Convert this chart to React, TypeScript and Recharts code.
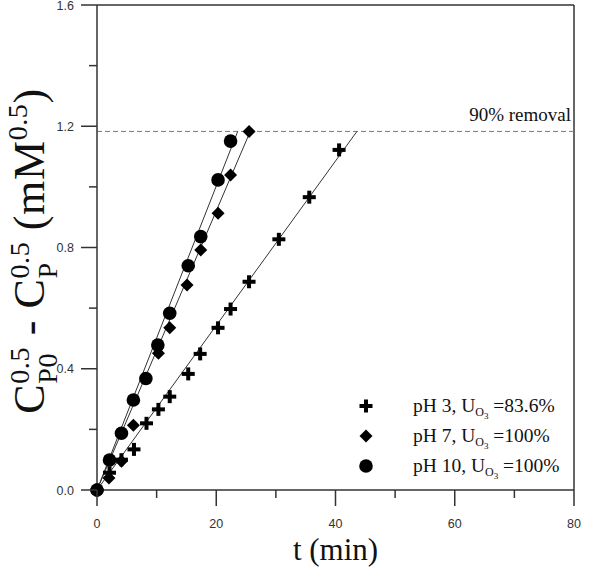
import React from "react";
import { ComposedChart, XAxis, YAxis, Scatter, ReferenceLine, Label, Legend } from "recharts";

// Measured points, pH 3 (crosses)
const timePH3 = [0, 2.1, 4.1, 6.2, 8.3, 10.3, 12.2, 15.3, 17.3, 20.3, 22.4, 25.5, 30.5, 35.6, 40.6];
const valuePH3 = [0, 0.057, 0.1, 0.134, 0.22, 0.266, 0.308, 0.383, 0.449, 0.535, 0.597, 0.687, 0.827, 0.966, 1.122];
// pH 7 (diamonds)
const timePH7 = [0, 2.0, 4.1, 6.1, 10.3, 12.2, 15.1, 17.4, 20.3, 22.4, 25.5];
const valuePH7 = [0, 0.04, 0.095, 0.214, 0.451, 0.535, 0.676, 0.792, 0.913, 1.039, 1.183];
// pH 10 (circles)
const timePH10 = [0, 2.1, 4.1, 6.1, 8.2, 10.2, 12.2, 15.3, 17.4, 20.3, 22.4];
const valuePH10 = [0, 0.099, 0.187, 0.297, 0.368, 0.478, 0.583, 0.74, 0.836, 1.023, 1.151];

// linear fits run from the origin up to the 90 % removal level
const REMOVAL_90 = 1.183;
const fitStart = [0, 0];
const fitEndPH3 = [43.6, REMOVAL_90];
const fitEndPH7 = [25.7, REMOVAL_90];
const fitEndPH10 = [23.6, REMOVAL_90];

const xTicks = [0, 10, 20, 30, 40, 50, 60, 70, 80];
const xLabelled = [0, 20, 40, 60, 80];
const yTicks = [0, 0.2, 0.4, 0.6, 0.8, 1.0, 1.2, 1.4, 1.6];
const yLabelled = [0, 0.4, 0.8, 1.2, 1.6];

const legendRows = [
  { key: "ph3", pre: "pH 3, U", post: " =83.6%" },
  { key: "ph7", pre: "pH 7, U", post: " =100%" },
  { key: "ph10", pre: "pH 10, U", post: " =100%" },
];

const toPoints = (ts: number[], ys: number[]) => ts.map((t, i) => ({ t, y: ys[i] }));
const toFit = (a: number[], b: number[]) => [
  { t: a[0], y: a[1] },
  { t: b[0], y: b[1] },
];

const ph3 = toPoints(timePH3, valuePH3);
const ph7 = toPoints(timePH7, valuePH7);
const ph10 = toPoints(timePH10, valuePH10);

const AXIS = "#333";
const SERIF = "'Liberation Serif', 'Times New Roman', serif";
const SANS = "'Liberation Sans', Arial, sans-serif";

const Cross = ({ cx, cy }: any) => (
  <g fill="#000">
    <rect x={cx - 6.5} y={cy - 2} width={13} height={4} />
    <rect x={cx - 2} y={cy - 6.5} width={4} height={13} />
  </g>
);
const Diamond = ({ cx, cy }: any) => (
  <polygon fill="#000" points={`${cx},${cy - 6.5} ${cx + 6.5},${cy} ${cx},${cy + 6.5} ${cx - 6.5},${cy}`} />
);
const Dot = ({ cx, cy }: any) => <circle cx={cx} cy={cy} r={6.8} fill="#000" />;
const NoMark = () => <g />;

const markers: Record<string, (p: any) => React.ReactElement> = { ph3: Cross, ph7: Diamond, ph10: Dot };

function XTick({ x, y, payload }: any) {
  const major = xLabelled.includes(payload.value);
  return (
    <g>
      <line x1={x} x2={x} y1={y} y2={y + (major ? 16 : 8)} stroke={AXIS} strokeWidth={1.5} />
      {major && (
        <text x={x} y={y + 38} textAnchor="middle" fontFamily={SANS} fontSize={12.5} fill={AXIS}>
          {payload.value}
        </text>
      )}
    </g>
  );
}

function YTick({ x, y, payload }: any) {
  const major = yLabelled.some((v) => Math.abs(v - payload.value) < 1e-6);
  return (
    <g>
      <line x1={x - (major ? 16 : 8)} x2={x} y1={y} y2={y} stroke={AXIS} strokeWidth={1.5} />
      {major && (
        <text x={x - 23} y={y} dy="0.36em" textAnchor="end" fontFamily={SANS} fontSize={12.5} fill={AXIS}>
          {payload.value.toFixed(1)}
        </text>
      )}
    </g>
  );
}

function LegendBox() {
  return (
    <div style={{ fontFamily: SERIF, fontSize: 19.5, color: "#111" }}>
      {legendRows.map((r) => {
        const M = markers[r.key];
        return (
          <div key={r.key} style={{ display: "flex", alignItems: "center", height: 30 }}>
            <svg width={32} height={30}>
              <M cx={16} cy={15} />
            </svg>
            <span style={{ marginLeft: 31, whiteSpace: "nowrap" }}>
              {r.pre}
              <span style={{ fontSize: 12, position: "relative", top: 4 }}>
                O<span style={{ fontSize: 9, position: "relative", top: 3 }}>3</span>
              </span>
              {r.post}
            </span>
          </div>
        );
      })}
    </div>
  );
}

const stack = (top: string, bottom: string) => (
  <span style={{ display: "inline-block", verticalAlign: "middle", lineHeight: 1, fontSize: 28, textAlign: "left" }}>
    <span style={{ display: "block" }}>{top}</span>
    <span style={{ display: "block" }}>{bottom}</span>
  </span>
);

function YTitle() {
  return (
    <div
      style={{
        position: "absolute",
        left: 33,
        top: 251,
        transform: "translate(-50%, -50%) rotate(-90deg)",
        whiteSpace: "nowrap",
        fontFamily: SERIF,
        fontSize: 44,
        lineHeight: 1,
        letterSpacing: 0.6,
        color: "#111",
      }}
    >
      C{stack("0.5", "P0")} - C{stack("0.5", "P")} (mM
      <span style={{ fontSize: 28, verticalAlign: 17 }}>0.5</span>)
    </div>
  );
}

export default function App() {
  return (
    <div style={{ position: "absolute", left: 0, top: 0, width: 594, height: 575, background: "#fff" }}>
      <ComposedChart width={594} height={575} margin={{ top: 5, right: 20, bottom: 0, left: 0 }}>
        <XAxis
          type="number"
          dataKey="t"
          domain={[0, 80]}
          ticks={xTicks}
          interval={0}
          height={85}
          tickSize={0}
          tickMargin={0}
          tickLine={false}
          axisLine={{ stroke: AXIS, strokeWidth: 1.5 }}
          tick={<XTick />}
        >
          <Label
            value="t (min)"
            content={({ viewBox }: any) => (
              <text
                x={viewBox.x + viewBox.width / 2}
                y={viewBox.y + 70}
                textAnchor="middle"
                fontFamily={SERIF}
                fontSize={31}
                fill="#111"
              >
                t (min)
              </text>
            )}
          />
        </XAxis>
        <YAxis
          type="number"
          dataKey="y"
          domain={[0, 1.6]}
          ticks={yTicks}
          interval={0}
          width={97}
          tickSize={0}
          tickMargin={0}
          tickLine={false}
          axisLine={{ stroke: AXIS, strokeWidth: 1.5 }}
          tick={<YTick />}
        />
        <ReferenceLine y={1.6} stroke={AXIS} strokeWidth={1.5} />
        <ReferenceLine x={80} stroke={AXIS} strokeWidth={1.5} />
        <ReferenceLine y={REMOVAL_90} stroke="#777" strokeDasharray="5 3">
          <Label
            content={({ viewBox }: any) => (
              <text
                x={viewBox.x + viewBox.width - 3}
                y={viewBox.y - 10}
                textAnchor="end"
                fontFamily={SERIF}
                fontSize={19}
                fill="#111"
              >
                90% removal
              </text>
            )}
          />
        </ReferenceLine>
        <Scatter data={toFit(fitStart, fitEndPH3)} line={{ stroke: AXIS, strokeWidth: 1 }} shape={<NoMark />} isAnimationActive={false} legendType="none" />
        <Scatter data={toFit(fitStart, fitEndPH7)} line={{ stroke: AXIS, strokeWidth: 1 }} shape={<NoMark />} isAnimationActive={false} legendType="none" />
        <Scatter data={toFit(fitStart, fitEndPH10)} line={{ stroke: AXIS, strokeWidth: 1 }} shape={<NoMark />} isAnimationActive={false} legendType="none" />
        <Scatter data={ph3} shape={<Cross />} isAnimationActive={false} />
        <Scatter data={ph7} shape={<Diamond />} isAnimationActive={false} />
        <Scatter data={ph10} shape={<Dot />} isAnimationActive={false} />
        <Legend
          layout="horizontal"
          verticalAlign="middle"
          align="center"
          content={<LegendBox />}
          wrapperStyle={{ left: 350, top: 391, width: 240, height: 90 }}
        />
      </ComposedChart>
      <YTitle />
    </div>
  );
}
